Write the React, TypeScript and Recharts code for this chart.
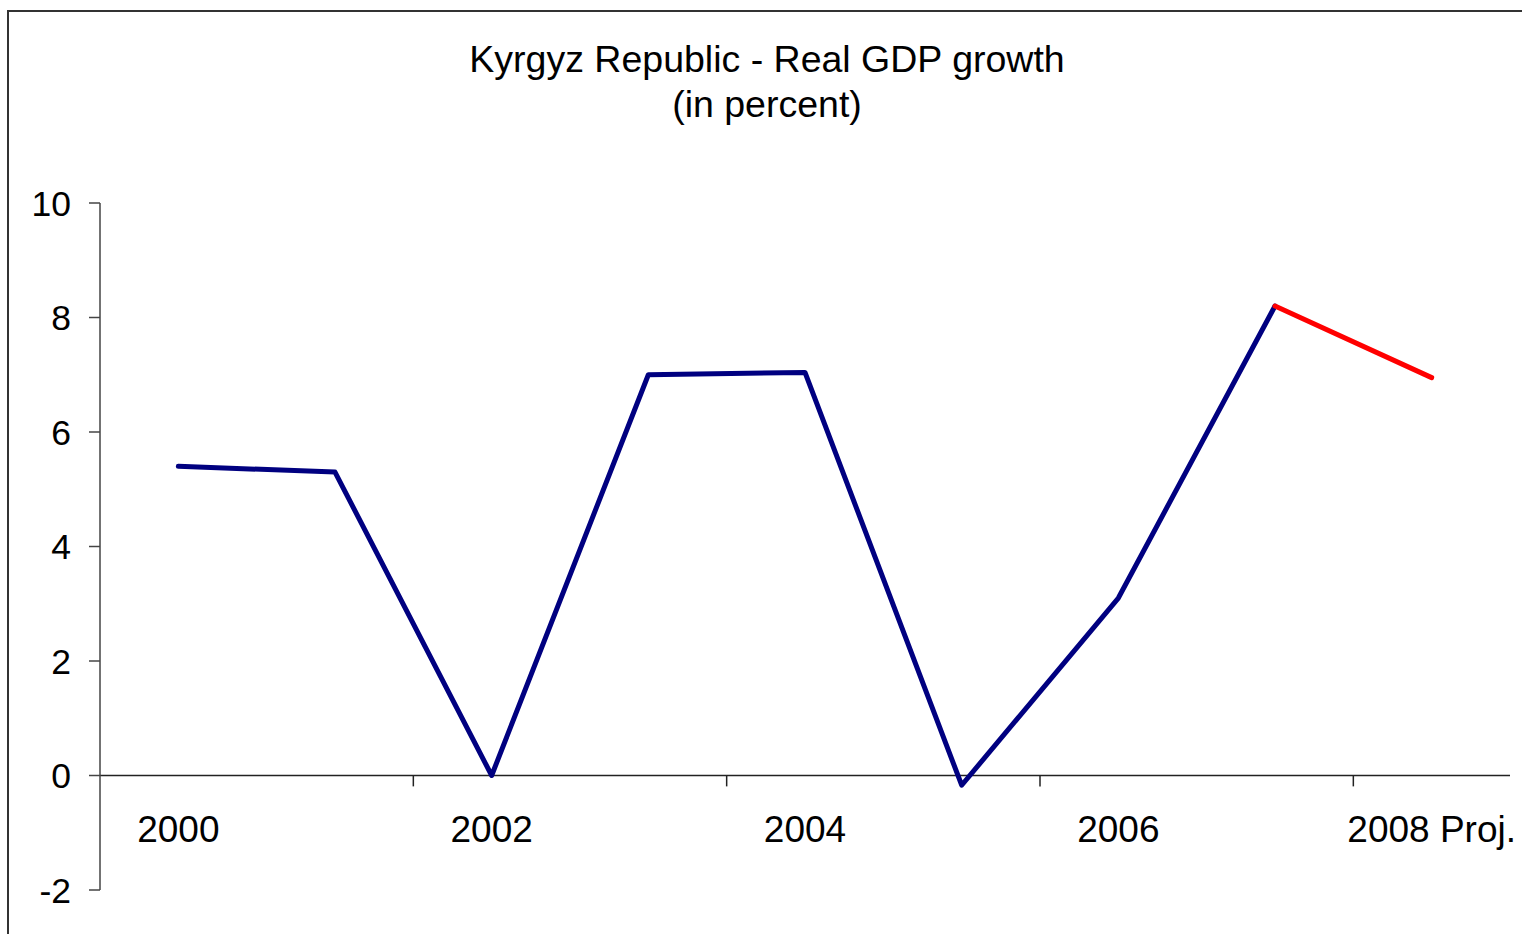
import React from "react";
import { LineChart, Line, XAxis, YAxis, ReferenceLine } from "recharts";

const years = ["2000", "2001", "2002", "2003", "2004", "2005", "2006", "2007", "2008 Proj."];
const actualGrowth: (number | null)[] = [5.4, 5.3, 0.0, 7.0, 7.04, -0.17, 3.1, 8.2, null];
const projectedGrowth: (number | null)[] = [null, null, null, null, null, null, null, 8.2, 6.95];
const yTicks = [-2, 0, 2, 4, 6, 8, 10];
const labelledYears = [0, 2, 4, 6, 8];
const boundaryTicks = [2, 4, 6, 8];

const data = years.map((y, i) => ({
  pos: i + 0.5,
  year: y,
  actual: actualGrowth[i],
  projected: projectedGrowth[i],
}));

const W = 1522;
const H = 934;
const X_AXIS_H = 44;
const MARGIN = { top: 203, right: 12, bottom: 0, left: 0 };
const Y_MIN = -2;
const Y_MAX = 10;
const PLOT_H = H - MARGIN.top - MARGIN.bottom - X_AXIS_H;
const ZERO_Y = MARGIN.top + ((Y_MAX - 0) / (Y_MAX - Y_MIN)) * PLOT_H;
const FONT = "'Liberation Sans', Arial, sans-serif";

const XTick = (props: any) => {
  const { x, payload } = props;
  const idx = Math.round(Number(payload.value) - 0.5);
  return (
    <text
      x={x}
      y={ZERO_Y + 54}
      textAnchor="middle"
      dominantBaseline="central"
      fontSize={37}
      fontFamily={FONT}
      fill="#000"
    >
      {years[idx]}
    </text>
  );
};

export default function App() {
  return (
    <div style={{ position: "absolute", left: 0, top: 0, width: W, height: H, overflow: "hidden", background: "#fff" }}>
      <div
        style={{
          position: "absolute",
          left: 7,
          top: 10,
          width: 3000,
          height: 3000,
          borderTop: "2px solid #333",
          borderLeft: "2px solid #333",
        }}
      />
      <div
        style={{
          position: "absolute",
          left: 267,
          width: 1000,
          top: 37,
          textAlign: "center",
          fontFamily: FONT,
          fontSize: 37.5,
          lineHeight: "45px",
          color: "#000",
        }}
      >
        Kyrgyz Republic - Real GDP growth
        <br />
        (in percent)
      </div>
      <div style={{ position: "absolute", left: 0, top: 0 }}>
        <LineChart width={W} height={H} data={data} margin={MARGIN}>
          <XAxis
            dataKey="pos"
            type="number"
            domain={[0, 9]}
            ticks={labelledYears.map((i) => i + 0.5)}
            axisLine={false}
            tickLine={false}
            height={X_AXIS_H}
            tick={XTick}
            interval={0}
          />
          <YAxis
            type="number"
            domain={[Y_MIN, Y_MAX]}
            ticks={yTicks}
            width={100}
            tickSize={11}
            tickMargin={18}
            interval={0}
            axisLine={{ stroke: "#444", strokeWidth: 1.5 }}
            tickLine={{ stroke: "#444", strokeWidth: 1.5 }}
            tick={{ fill: "#000", fontSize: 35.5, fontFamily: FONT }}
          />
          <ReferenceLine y={0} stroke="#222" strokeWidth={1.5} />
          {boundaryTicks.map((b) => (
            <ReferenceLine
              key={b}
              segment={[
                { x: b, y: 0 },
                { x: b, y: -0.19 },
              ]}
              stroke="#222"
              strokeWidth={1.5}
            />
          ))}
          <Line
            dataKey="actual"
            stroke="#000080"
            strokeWidth={5}
            dot={false}
            strokeLinecap="round"
            strokeLinejoin="round"
            isAnimationActive={false}
          />
          <Line
            dataKey="projected"
            stroke="#FF0000"
            strokeWidth={5}
            dot={false}
            strokeLinecap="round"
            strokeLinejoin="round"
            isAnimationActive={false}
          />
        </LineChart>
      </div>
    </div>
  );
}
